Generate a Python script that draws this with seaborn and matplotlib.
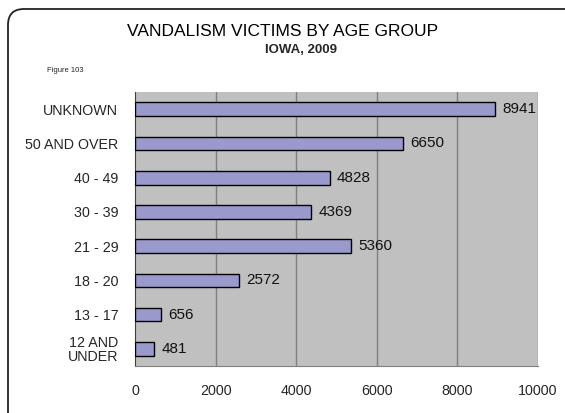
import matplotlib
matplotlib.use("Agg")
import matplotlib.pyplot as plt
import seaborn as sns
import pandas as pd
import numpy as np
from matplotlib.patches import FancyBboxPatch

# data
age_groups = ["UNKNOWN", "50 AND OVER", "40 - 49", "30 - 39", "21 - 29",
              "18 - 20", "13 - 17", "12 AND\nUNDER"]
victims = [8941, 6650, 4828, 4369, 5360, 2572, 656, 481]
x_ticks = [0, 2000, 4000, 6000, 8000, 10000]

df = pd.DataFrame({"group": age_groups, "victims": victims})

sns.set_style("white")
plt.rcParams["font.family"] = ["Liberation Sans", "DejaVu Sans"]

fig = plt.figure(figsize=(5.65, 4.13), dpi=100)
ax = fig.add_axes([0.239, 0.114, 0.713, 0.663])

# rounded outer frame, running off the right and bottom edges
frame = FancyBboxPatch((8, -30), 600, 413 - 9 + 30,
                       boxstyle="round,pad=0,rounding_size=16",
                       transform=None, facecolor="white",
                       edgecolor="#222222", linewidth=1.3, zorder=-10)
fig.patches.append(frame)

ax.set_facecolor("#c0c0c0")
sns.barplot(data=df, x="victims", y="group", orient="h", order=age_groups,
            color="#9999cc", saturation=1, width=0.4,
            edgecolor="black", linewidth=1.0, ax=ax, zorder=3)

for i, v in enumerate(victims):
    ax.text(v + 180, i, f"{v}", va="center", ha="left", fontsize=11,
            color="#111111", zorder=4)

ax.set_xlim(0, 10000)
ax.set_ylim(len(age_groups) - 0.5, -0.5)
ax.set_xticks(x_ticks)
ax.set_xticklabels([str(t) for t in x_ticks], fontsize=10.3)
ax.tick_params(axis="x", length=4, pad=9, color="#404040")
ax.tick_params(axis="y", which="major", length=0, pad=12, labelsize=10.3)
ax.set_yticks(np.arange(-0.5, len(age_groups), 1), minor=True)
ax.tick_params(axis="y", which="minor", length=4, color="#404040")
ax.set_xlabel("")
ax.set_ylabel("")
for lab in ax.get_yticklabels():
    lab.set_linespacing(1.0)

for t in x_ticks[1:]:
    ax.axvline(t, color="#808080", linewidth=1.0, zorder=1)

for s in ["top", "right"]:
    ax.spines[s].set_visible(False)
ax.spines["left"].set_color("#404040")
ax.spines["bottom"].set_color("#808080")

fig.text(0.5, 1 - 31 / 413, "VANDALISM VICTIMS BY AGE GROUP", ha="center",
         va="center", fontsize=12.5, color="black")
fig.text(0.532, 1 - 50 / 413, "IOWA, 2009", ha="center", va="center",
         fontsize=9.5, fontweight="bold")
fig.text(0.083, 1 - 70 / 413, "Figure 103", ha="left", va="center", fontsize=5.5)

fig.savefig("out.png", dpi=100)
